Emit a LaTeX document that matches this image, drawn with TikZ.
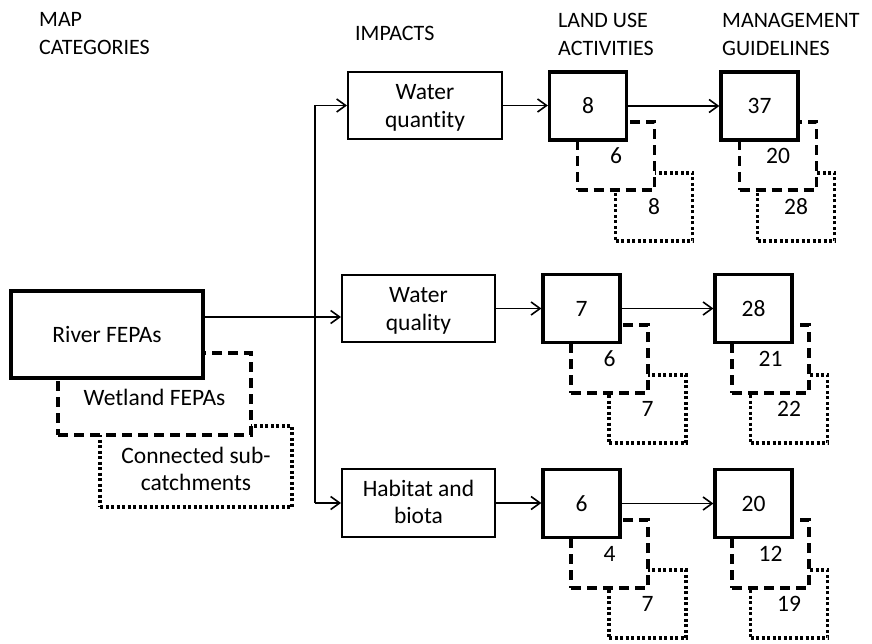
\documentclass[tikz,border=0pt]{standalone}
\usepackage{fontspec}
\setmainfont{Carlito}[Ligatures=NoCommon]
\usetikzlibrary{arrows.meta}
\newcommand{\lowered}[2]{\raisebox{-#1}[\height][\depth]{#2}}
\newcommand{\twolines}[3]{\lowered{#1}{\begin{tabular}{@{}c@{}}#2\\#3\end{tabular}}}
\begin{document}
\begin{tikzpicture}[x=1pt,y=-1pt,
  every node/.style={font=\fontsize{23.5}{27.5}\selectfont},
  solidbox/.style={draw, line width=3.2pt, fill=white, minimum width=77pt, minimum height=68pt, inner sep=0pt, align=center},
  dashbox/.style={solidbox, dash pattern=on 10pt off 6pt},
  dotbox/.style={solidbox, dash pattern=on 3pt off 2.5pt},
  impbox/.style={draw, line width=2pt, fill=white, minimum width=153pt, minimum height=67pt, inner sep=0pt, align=center},
  head/.style={anchor=west, align=left, inner sep=0pt, font=\fontsize{22}{28}\selectfont},
  conn/.style={line width=1.6pt},
  arr/.style={conn, -{Straight Barb[length=9pt,width=13pt]}}
]
\useasboundingbox (0,0) rectangle (872,644);

% headings
\node[head] (h1) at (39,34) {MAP\\CATEGORIES};
\node[head] (h2) at (355,33) {IMPACTS};
\node[head] (h3) at (558,34) {LAND USE\\ACTIVITIES};
\node[head] (h4) at (722,34) {MANAGEMENT\\GUIDELINES};

% map categories
\node[dotbox, minimum width=192pt, minimum height=81pt] (conn) at (196,466.5) {\twolines{5pt}{Connected sub-}{catchments}};
\node[dashbox, minimum width=193pt, minimum height=82pt] (wet) at (154.5,394) {\lowered{3pt}{Wetland FEPAs}};
\node[solidbox, minimum width=192pt, minimum height=87pt] (river) at (107,334.5) {River FEPAs};

% impacts
\node[impbox, minimum width=154pt] (wqty) at (425,105.5) {\twolines{2.5pt}{Water}{quantity}};
\node[impbox] (wqual) at (418.5,308.5) {\twolines{2.5pt}{Water}{quality}};
\node[impbox, minimum height=68pt] (hab) at (418.5,503) {\twolines{1.5pt}{Habitat and}{biota}};

% row 1
\node[dotbox] (L1c) at (654,207) {8};
\node[dashbox] (L1b) at (616,156) {6};
\node[solidbox] (L1a) at (588,106) {8};
\node[dotbox] (M1c) at (796,207) {28};
\node[dashbox] (M1b) at (778,156) {20};
\node[solidbox] (M1a) at (759.5,106) {37};

% row 2
\node[dotbox] (L2c) at (647.5,409) {7};
\node[dashbox] (L2b) at (609.5,359) {6};
\node[solidbox] (L2a) at (581.5,308.5) {7};
\node[dotbox] (M2c) at (789,409) {22};
\node[dashbox] (M2b) at (770.5,359) {21};
\node[solidbox] (M2a) at (753.5,308.5) {28};

% row 3
\node[dotbox] (L3c) at (647.5,604) {7};
\node[dashbox] (L3b) at (609.5,554) {4};
\node[solidbox] (L3a) at (581.5,503.5) {6};
\node[dotbox] (M3c) at (789,604) {19};
\node[dashbox] (M3b) at (770.5,554) {12};
\node[solidbox] (M3a) at (753.5,503.5) {20};

% connectors
\coordinate (j) at (315,317);
\draw[arr] (river.east |- j) -- (wqual.west |- j);
\draw[arr] (j |- hab.west) -- (j |- wqty.west) -- (wqty.west);
\draw[arr] (j |- hab.west) -- (hab.west);

\draw[arr] (wqty.east) -- (wqty.east -| L1a.west);
\draw[arr] (wqual.east) -- (wqual.east -| L2a.west);
\draw[arr] (hab.east) -- (hab.east -| L3a.west);

\draw[arr] (L1a.east) -- (M1a.west);
\draw[arr] (L2a.east) -- (M2a.west);
\draw[arr] (L3a.east) -- (M3a.west);
\end{tikzpicture}
\end{document}
